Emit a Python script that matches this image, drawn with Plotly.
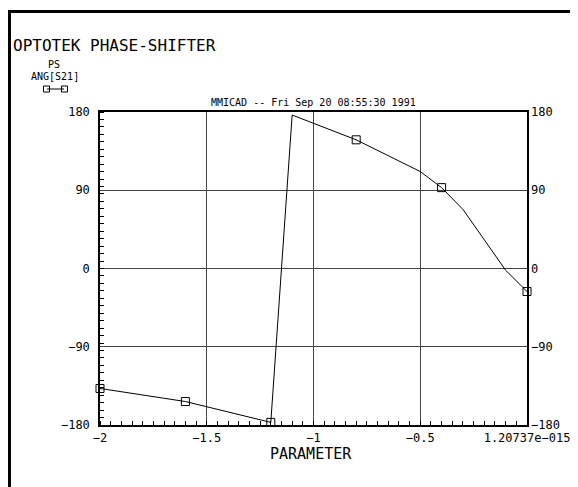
import plotly.graph_objects as go

# ---- data ----
param = [-2.0, -1.6, -1.2, -1.1, -0.8, -0.5, -0.4, -0.3, -0.1, 0.0]
ang_s21 = [-138, -153, -177, 176.5, 148, 111.5, 93, 68, -2, -26.5]
marker_param = [-2.0, -1.6, -1.2, -0.8, -0.4, 0.0]
marker_ang = [-138, -153, -177, 148, 93, -26.5]

x_ticks = [-2, -1.5, -1, -0.5, 0]
x_ticktext = ["−2", "−1.5", "−1", "−0.5", "1.20737e−015"]
y_ticks = [-180, -90, 0, 90, 180]
y_ticktext = ["−180", "−90", "0", "90", "180"]

FONT = "DejaVu Sans Mono"
OFF = 8  # page body margin
W, H = 578 - OFF, 487 - OFF
L, T = 100 - OFF, 112 - OFF
PW, PH = 427, 313
R, B = W - L - PW, H - T - PH


def px(x):
    return (x - OFF - L) / PW


def py(y):
    return (T + PH - (y - OFF)) / PH


fig = go.Figure()
fig.add_trace(go.Scatter(x=param, y=ang_s21, mode="lines",
                         line=dict(color="black", width=1), showlegend=False))
fig.add_trace(go.Scatter(x=marker_param, y=marker_ang, mode="markers",
                         marker=dict(symbol="square-open", size=8,
                                     color="black", line=dict(width=1)),
                         cliponaxis=False, showlegend=False))
# invisible trace to carry the right axis
fig.add_trace(go.Scatter(x=[param[0]], y=[ang_s21[0]], yaxis="y2",
                         mode="markers", marker=dict(opacity=0),
                         showlegend=False, hoverinfo="skip"))

GRID = "#454545"
fig.update_layout(
    width=W, height=H,
    margin=dict(l=L, r=R, t=T, b=B, autoexpand=False),
    paper_bgcolor="white", plot_bgcolor="white",
    font=dict(family=FONT, color="black", size=11),
    xaxis=dict(range=[-2, 0], tickvals=x_ticks, ticktext=x_ticktext,
               automargin=False,
               showgrid=True, gridcolor=GRID, gridwidth=1.4,
               zeroline=False, showline=True, linecolor="black",
               linewidth=1.5, mirror=True, ticks="",
               ticklabelstandoff=1,
               tickfont=dict(size=12, family=FONT),
               minor=dict(dtick=0.05, tick0=-2, ticks="inside", ticklen=4,
                          tickcolor="black", tickwidth=1, showgrid=False)),
    yaxis=dict(range=[-180, 180], tickvals=y_ticks, ticktext=y_ticktext,
               automargin=False,
               showgrid=True, gridcolor=GRID, gridwidth=1.4,
               zeroline=False, showline=True, linecolor="black",
               linewidth=1.5, mirror=True, ticks="",
               ticklabelstandoff=6,
               tickfont=dict(size=12, family=FONT),
               minor=dict(tick0=180, dtick=360 / 42, ticks="inside",
                          ticklen=4, tickcolor="black", tickwidth=1,
                          showgrid=False)),
    yaxis2=dict(range=[-180, 180], tickvals=y_ticks, ticktext=y_ticktext,
                automargin=False,
                overlaying="y", side="right", showgrid=False,
                zeroline=False, showline=False, ticks="",
                ticklabelstandoff=3,
                tickfont=dict(size=12, family=FONT)),
)

annotations = [
    dict(text="OPTOTEK PHASE-SHIFTER", x=px(11), y=py(45), xanchor="left",
         yanchor="middle", font=dict(size=16, family=FONT)),
    dict(text="PS", x=px(54), y=py(64), xanchor="center", yanchor="middle",
         font=dict(size=10, family=FONT)),
    dict(text="ANG[S21]", x=px(55), y=py(76), xanchor="center",
         yanchor="middle", font=dict(size=10, family=FONT)),
    dict(text="MMICAD -- Fri Sep 20 08:55:30 1991", x=0.5, y=py(103),
         xanchor="center", yanchor="middle", font=dict(size=10, family=FONT)),
    dict(text="PARAMETER", x=px(311), y=py(454), xanchor="center",
         yanchor="middle", font=dict(size=15, family=FONT)),
]
for a in annotations:
    a.update(xref="paper", yref="paper", showarrow=False)
fig.update_layout(annotations=annotations)

shapes = [
    # outer frame (top and left bars)
    dict(type="line", x0=px(8), x1=px(600), y0=py(11.5), y1=py(11.5),
         line=dict(color="black", width=3)),
    dict(type="line", x0=px(9.5), x1=px(9.5), y0=py(10), y1=py(520),
         line=dict(color="black", width=3)),
    # legend symbol
    dict(type="line", x0=px(47), x1=px(64), y0=py(89), y1=py(89),
         line=dict(color="black", width=1)),
    dict(type="rect", x0=px(43.5), x1=px(49.5), y0=py(86), y1=py(92),
         line=dict(color="black", width=1)),
    dict(type="rect", x0=px(61.5), x1=px(67.5), y0=py(86), y1=py(92),
         line=dict(color="black", width=1)),
]
for s in shapes:
    s.update(xref="paper", yref="paper")
fig.update_layout(shapes=shapes)

fig.write_html("out.html")
